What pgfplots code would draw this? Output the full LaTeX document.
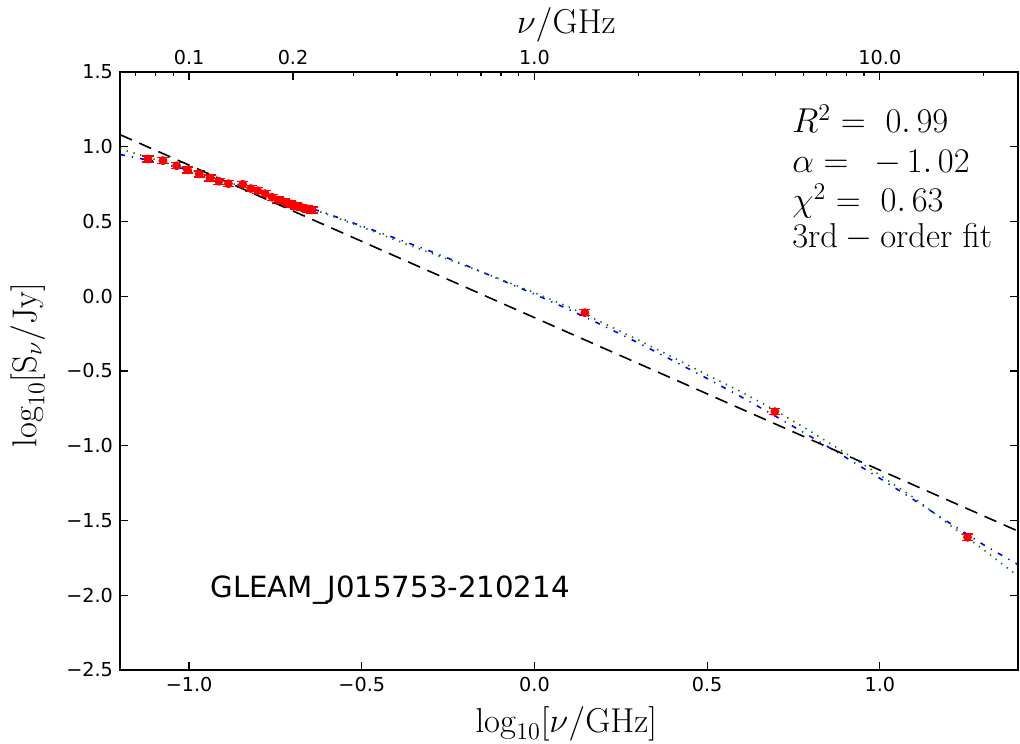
\documentclass[border=0pt]{standalone}
\usepackage[no-math]{fontspec}
\usepackage{pgfplots}
\pgfplotsset{compat=1.18}
\usepackage{pgfplotstable}
\newfontfamily\djv{DejaVu Sans}
\definecolor{mgreen}{rgb}{0,0.5,0}

\pgfplotstableread{
x y e
-1.1192 0.918 0.02
-1.0757 0.907 0.02
-1.0362 0.873 0.02
-1.0044 0.845 0.02
-0.9706 0.818 0.02
-0.9393 0.791 0.02
-0.9136 0.769 0.02
-0.8861 0.753 0.02
-0.8447 0.749 0.02
-0.8210 0.720 0.02
-0.8013 0.706 0.02
-0.7799 0.686 0.02
-0.7595 0.662 0.02
-0.7423 0.644 0.02
-0.7235 0.630 0.02
-0.7055 0.617 0.02
-0.6904 0.604 0.02
-0.6737 0.593 0.02
-0.6576 0.584 0.02
-0.6440 0.577 0.02
0.146 -0.110 0.02
0.696 -0.772 0.02
1.254 -1.612 0.022
}\pts

\pgfplotstableread{
x y
-1.2 0.948
-1.1 0.902
-1.0 0.842
-0.9 0.776
-0.8 0.705
-0.7 0.630
-0.6 0.552
-0.5 0.470
-0.4 0.386
-0.3 0.300
-0.2 0.208
-0.1 0.112
0.0 0.014
0.1 -0.089
0.2 -0.198
0.3 -0.311
0.4 -0.429
0.5 -0.550
0.6 -0.675
0.7 -0.805
0.8 -0.939
0.9 -1.076
1.0 -1.218
1.1 -1.364
1.2 -1.514
1.3 -1.662
1.4 -1.795
}\blue

\pgfplotstableread{
x y
-1.2 0.987
-1.1 0.915
-1.0 0.846
-0.9 0.773
-0.8 0.700
-0.7 0.626
-0.6 0.548
-0.5 0.463
-0.4 0.374
-0.3 0.288
-0.2 0.204
-0.1 0.115
0.0 0.024
0.1 -0.073
0.2 -0.180
0.3 -0.292
0.4 -0.408
0.5 -0.526
0.6 -0.641
0.7 -0.767
0.8 -0.905
0.9 -1.048
1.0 -1.196
1.1 -1.350
1.2 -1.526
1.3 -1.695
1.4 -1.872
}\green

\begin{document}
\begin{tikzpicture}
\useasboundingbox (-60pt,-36.5pt) rectangle (450pt,335pt);
\begin{axis}[
  scale only axis, width=449pt, height=299pt,
  at={(0,0)}, anchor=south west,
  xmin=-1.2, xmax=1.4, ymin=-2.5, ymax=1.5,
  xtick={-1,-0.5,0,0.5,1},
  xticklabels={−1.0,−0.5,0.0,0.5,1.0},
  ytick={-2.5,-2,-1.5,-1,-0.5,0,0.5,1,1.5},
  yticklabels={−2.5,−2.0,−1.5,−1.0,−0.5,0.0,0.5,1.0,1.5},
  xtick pos=left, ytick pos=both,
  tick align=inside,
  major tick length=4pt,
  tick style={black, line width=0.6pt},
  axis line style={line width=1pt},
  ticklabel style={font=\djv\fontsize{9.6}{11}\selectfont},
]
\addplot[only marks, red, mark=*, mark size=2pt,
  error bars/.cd, y dir=both, y explicit,
  error bar style={red, line width=0.7pt},
  error mark options={rotate=90, red, mark size=2.8pt, line width=0.7pt}]
  table[x=x, y=y, y error=e] {\pts};
\addplot[black, line width=0.8pt, dash pattern=on 6.5pt off 4pt] coordinates {(-1.2,1.081) (1.4,-1.571)};
\addplot[blue, line width=0.8pt, dash pattern=on 2.5pt off 3.5pt on 0.6pt off 3.5pt] table[x=x,y=y] {\blue};
\addplot[mgreen, line width=0.8pt, dash pattern=on 0.7pt off 2.8pt] table[x=x,y=y] {\green};

\node[anchor=base west, inner sep=0pt, font=\fontsize{17.1}{20}\selectfont] at (axis cs:0.7456,1.092) {$R^2=\ 0.\,99$};
\node[anchor=base west, inner sep=0pt, font=\fontsize{17.1}{20}\selectfont] at (axis cs:0.7456,0.826) {$\alpha=\ \,{-}\,1.\,02$};
\node[anchor=base west, inner sep=0pt, font=\fontsize{17.1}{20}\selectfont] at (axis cs:0.7456,0.566) {$\chi^2=\ 0.\,63$};
\node[anchor=base west, inner sep=0pt, font=\fontsize{17.1}{20}\selectfont] at (axis cs:0.7456,0.323) {$\mathrm{3rd-order\ fit}$};
\node[anchor=base, font=\djv\fontsize{14.6}{17}\selectfont] at (axis cs:-0.418,-2.012) {GLEAM\_J015753-210214};
\end{axis}

\begin{axis}[
  scale only axis, width=449pt, height=299pt,
  at={(0,0)}, anchor=south west,
  xmode=log, xmin=0.0630957, xmax=25.1189, ymin=0, ymax=1,
  axis x line*=top, axis y line=none,
  axis line style={-, line width=1pt},
  clip=false,
  xtick={0.1,0.2,1,10},
  xticklabels={0.1,0.2,1.0,10.0},
  minor xtick={0.07,0.08,0.09,0.3,0.4,0.5,0.6,0.7,0.8,0.9,2,3,4,5,6,7,8,9,20},
  tick align=inside,
  major tick length=4pt, minor tick length=2pt,
  tick style={black, line width=0.6pt},
  ticklabel style={font=\djv\fontsize{9.6}{11}\selectfont},
]
\node[anchor=base, inner sep=0pt, font=\fontsize{17}{20}\selectfont] at (rel axis cs:0.497,-0.1037) {$\log_{10}[\nu/\mathrm{GHz}]$};
\node[anchor=base, inner sep=0pt, rotate=90, font=\fontsize{17}{20}\selectfont] at (rel axis cs:-0.093,0.51) {$\log_{10}[\mathrm{S}_{\nu}/\mathrm{Jy}]$};
\node[anchor=base, inner sep=0pt, font=\fontsize{17}{20}\selectfont] at (rel axis cs:0.497,1.065) {$\nu/\mathrm{GHz}$};
\end{axis}
\end{tikzpicture}
\end{document}
